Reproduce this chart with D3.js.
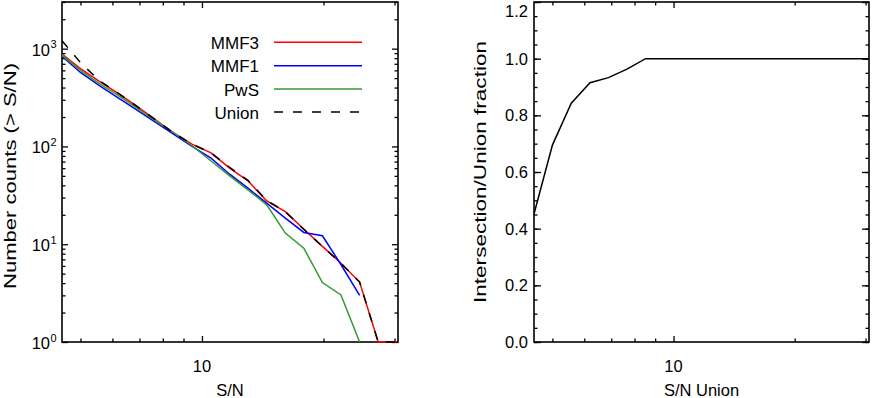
<!DOCTYPE html>
<meta charset="utf-8">

<!-- Load d3.js -->
<script src="https://d3js.org/d3.v7.min.js"></script>

<style>
  body { margin: 0; background: #fff; }
  text { font-family: "Liberation Sans", Arial, Helvetica, sans-serif; fill: #000; }
</style>

<!-- Create a div where the graph will take place -->
<div id="my_dataviz"></div>

<script>

// S/N bins (shared by both panels)
var snrBins = [4.5, 5.0, 5.57, 6.2, 6.89, 7.66, 8.52, 9.47, 10.53, 11.71, 13.0, 14.47, 16.09, 17.88, 19.88, 22.1, 24.58, 27.33, 30.38];

// cumulative number counts (> S/N), left panel
var mmf3  = [880, 625, 462, 348, 258, 188, 137, 105, 86, 60, 44.5, 27.7, 21.5, 14.2, 9.5, 6.4, 4.1, 1, 1];
var mmf1  = [836, 571, 418, 314, 236, 177, 133, 99.5, 76, 52, 37.4, 26.3, 18.5, 13.2, 12.2, 6.2, 3.0];
var pws   = [858, 600, 440, 332, 248, 184, 138, 101, 71, 50, 36, 25.3, 13, 9.1, 4.05, 3.03, 1];
var union = [1205, 720, 470, 350, 258, 188, 137, 105, 86, 61, 45, 28, 21.5, 14.2, 9.5, 6.4, 4.1, 1, 1];

// intersection / union fraction, right panel
var fraction = [0.452, 0.695, 0.843, 0.915, 0.933, 0.963, 1, 1, 1, 1, 1, 1, 1, 1, 1, 1, 1, 1, 1];

// legend
var seriesNames = ["MMF3", "MMF1", "PwS", "Union"];
var seriesColors = ["#ff0000", "#0000ff", "#339933", "#000000"];

// tick values
var xMajor = [10];
var xMinor = [5, 6, 7, 8, 9, 20, 30];
var yLogMajor = [1, 10, 100, 1000];
var yLogMinor = [2, 3, 4, 5, 6, 7, 8, 9, 20, 30, 40, 50, 60, 70, 80, 90, 200, 300, 400, 500, 600, 700, 800, 900, 2000, 3000];
var yLinMajor = [0, 0.2, 0.4, 0.6, 0.8, 1.0, 1.2];
var yLinMinor = d3.range(0, 1.2001, 0.05);

var svg = d3.select("#my_dataviz")
  .append("svg")
    .attr("width", 872)
    .attr("height", 398);

// panel boxes
var L = {left: 62, right: 398, top: 2, bottom: 342};
var R = {left: 534, right: 869, top: 2, bottom: 342};

var xL = d3.scaleLog().domain([4.5, 30.6]).range([L.left, L.right]);
var yL = d3.scaleLog().domain([1, 3000]).range([L.bottom, L.top]);
var xR = d3.scaleLog().domain([4.5, 30.6]).range([R.left, R.right]);
var yR = d3.scaleLinear().domain([0, 1.2]).range([R.bottom, R.top]);

// inward ticks on all four sides + frame
function ticks(box, x, y, xMaj, xMin, yMaj, yMin, yMajLen) {
  var sets = [
    [d3.axisBottom, x, xMaj, 6, "translate(0," + box.bottom + ")"],
    [d3.axisBottom, x, xMin, 3.5, "translate(0," + box.bottom + ")"],
    [d3.axisTop, x, xMaj, 6, "translate(0," + box.top + ")"],
    [d3.axisTop, x, xMin, 3.5, "translate(0," + box.top + ")"],
    [d3.axisLeft, y, yMaj, yMajLen, "translate(" + box.left + ",0)"],
    [d3.axisLeft, y, yMin, 3.5, "translate(" + box.left + ",0)"],
    [d3.axisRight, y, yMaj, yMajLen, "translate(" + box.right + ",0)"],
    [d3.axisRight, y, yMin, 3.5, "translate(" + box.right + ",0)"]
  ];
  sets.forEach(function(s) {
    var g = svg.append("g")
      .attr("transform", s[4])
      .call(s[0](s[1]).tickValues(s[2]).tickSize(-s[3]).tickFormat(""));
    g.select(".domain").remove();
    g.selectAll("line").attr("stroke", "#000").attr("stroke-width", 1.3);
  });
  svg.append("rect")
    .attr("x", box.left).attr("y", box.top)
    .attr("width", box.right - box.left).attr("height", box.bottom - box.top)
    .attr("fill", "none").attr("stroke", "#000").attr("stroke-width", 1.6);
}

// clip paths
var defs = svg.append("defs");
defs.append("clipPath").attr("id", "clipL").append("rect")
  .attr("x", L.left).attr("y", L.top).attr("width", L.right - L.left).attr("height", L.bottom - L.top + 1);
defs.append("clipPath").attr("id", "clipR").append("rect")
  .attr("x", R.left).attr("y", R.top).attr("width", R.right - R.left).attr("height", R.bottom - R.top + 1);

// ---------- left panel ----------
ticks(L, xL, yL, xMajor, xMinor, yLogMajor, yLogMinor, 6);

var lineL = d3.line()
  .x(function(d, i) { return xL(snrBins[i]); })
  .y(function(d) { return yL(d); });

var gL = svg.append("g").attr("clip-path", "url(#clipL)");
[mmf3, mmf1, pws, union].forEach(function(s, k) {
  gL.append("path")
    .datum(s)
    .attr("fill", "none")
    .attr("stroke", seriesColors[k])
    .attr("stroke-width", 1.5)
    .attr("stroke-dasharray", k == 3 ? "9,10" : null)
    .attr("d", lineL);
});

// y tick labels 10^n
yLogMajor.forEach(function(v) {
  svg.append("text")
    .attr("x", 50)
    .attr("y", yL(v) + 7)
    .attr("text-anchor", "end")
    .style("font-size", "16.5px")
    .text("10");
  svg.append("text")
    .attr("x", 50.5)
    .attr("y", yL(v) - 0.5)
    .style("font-size", "11px")
    .text(Math.round(Math.log10(v)));
});

// x tick label
svg.append("text")
  .attr("x", xL(10)).attr("y", 372)
  .attr("text-anchor", "middle")
  .style("font-size", "16.5px")
  .text("10");

svg.append("text")
  .attr("x", (L.left + L.right) / 2).attr("y", 396)
  .attr("text-anchor", "middle")
  .style("font-size", "16.5px")
  .text("S/N");

svg.append("text")
  .attr("transform", "translate(16," + 176 + ") rotate(-90)")
  .attr("text-anchor", "middle")
  .attr("textLength", 226)
  .attr("lengthAdjust", "spacingAndGlyphs")
  .style("font-size", "16.5px")
  .text("Number counts (> S/N)");

// legend
var legendY = [42.3, 65.7, 89, 112];
seriesNames.forEach(function(name, k) {
  svg.append("text")
    .attr("x", 259).attr("y", legendY[k] + 6.5)
    .attr("text-anchor", "end")
    .style("font-size", "17px")
    .text(name);
  svg.append("line")
    .attr("x1", 274).attr("x2", 362)
    .attr("y1", legendY[k]).attr("y2", legendY[k])
    .attr("stroke", seriesColors[k])
    .attr("stroke-width", 1.5)
    .attr("stroke-dasharray", k == 3 ? "9,10" : null);
});

// ---------- right panel ----------
ticks(R, xR, yR, xMajor, xMinor, yLinMajor, yLinMinor, 7);

var lineR = d3.line()
  .x(function(d, i) { return xR(snrBins[i]); })
  .y(function(d) { return yR(d); });

svg.append("g").attr("clip-path", "url(#clipR)")
  .append("path")
    .datum(fraction)
    .attr("fill", "none")
    .attr("stroke", "#000")
    .attr("stroke-width", 1.5)
    .attr("d", lineR);

yLinMajor.forEach(function(v) {
  svg.append("text")
    .attr("x", 528)
    .attr("y", Math.max(yR(v), 11) + 6)
    .attr("text-anchor", "end")
    .style("font-size", "16.5px")
    .text(d3.format(".1f")(v));
});

svg.append("text")
  .attr("x", xR(10)).attr("y", 372)
  .attr("text-anchor", "middle")
  .style("font-size", "16.5px")
  .text("10");

svg.append("text")
  .attr("x", (R.left + R.right) / 2).attr("y", 396)
  .attr("text-anchor", "middle")
  .style("font-size", "16.5px")
  .text("S/N Union");

svg.append("text")
  .attr("transform", "translate(486," + 172 + ") rotate(-90)")
  .attr("text-anchor", "middle")
  .attr("textLength", 262)
  .attr("lengthAdjust", "spacingAndGlyphs")
  .style("font-size", "16.5px")
  .text("Intersection/Union fraction");

</script>
